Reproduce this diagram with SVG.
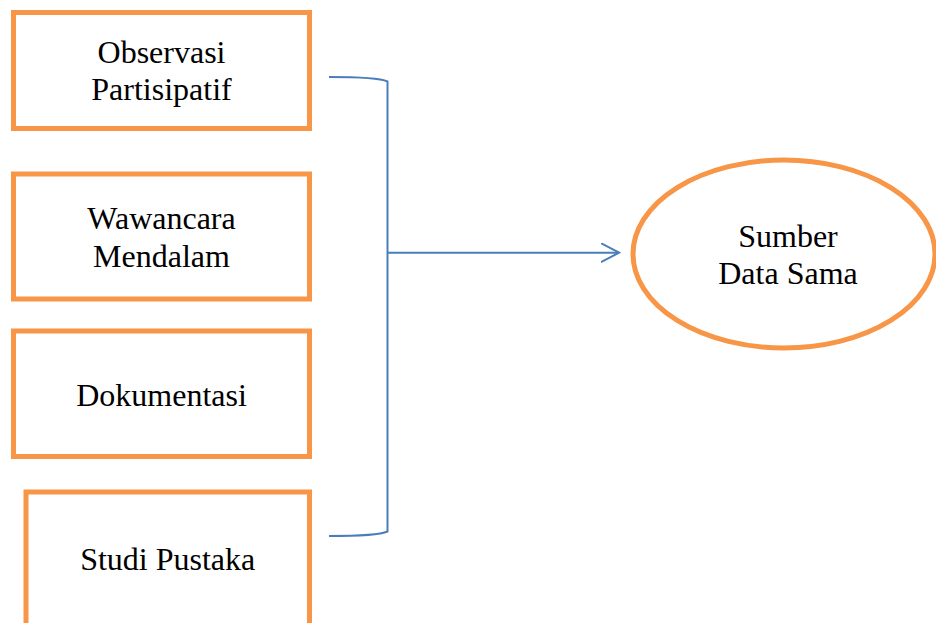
<svg xmlns="http://www.w3.org/2000/svg" width="936" height="623" viewBox="0 0 936 623">
<style>
.box{fill:#fff;stroke:#f79646;stroke-width:5}
.lbl{font-family:"Liberation Serif","Times New Roman",serif;font-size:32px;fill:#000;text-anchor:middle}
.con{fill:none;stroke:#4a7ebb;stroke-width:2}
</style>
<defs>
<marker id="arr" markerWidth="20" markerHeight="22" refX="18" refY="10" orient="auto" markerUnits="userSpaceOnUse">
<path d="M0,0.5 L18,10 L0,19.5" fill="none" stroke="#4a7ebb" stroke-width="2"/>
</marker>
</defs>
<rect width="936" height="623" fill="#fff"/>
<g id="connectors">
<path class="con" d="M329,77 C360,77 380,78 387.5,81.5 L387.5,531.5 C380,535 360,536 329,536"/>
<path class="con" d="M387.5,252.7 L619,252.7" marker-end="url(#arr)"/>
</g>
<g id="observasi">
<rect class="box" x="13.5" y="12.5" width="296" height="116"/>
<text class="lbl" x="161.5" y="63">Observasi</text>
<text class="lbl" x="161.5" y="100">Partisipatif</text>
</g>
<g id="wawancara">
<rect class="box" x="13.5" y="174" width="296" height="125"/>
<text class="lbl" x="161.5" y="228.5">Wawancara</text>
<text class="lbl" x="161.5" y="266.5">Mendalam</text>
</g>
<g id="dokumentasi">
<rect class="box" x="13.5" y="331" width="296" height="125.5"/>
<text class="lbl" x="161.5" y="406">Dokumentasi</text>
</g>
<g id="studi">
<rect class="box" x="26" y="492" width="283.5" height="150"/>
<text class="lbl" x="167.7" y="570">Studi Pustaka</text>
</g>
<g id="sumber">
<ellipse class="box" cx="784" cy="254" rx="151" ry="94"/>
<text class="lbl" x="788" y="246.5">Sumber</text>
<text class="lbl" x="788" y="284">Data Sama</text>
</g>
</svg>
